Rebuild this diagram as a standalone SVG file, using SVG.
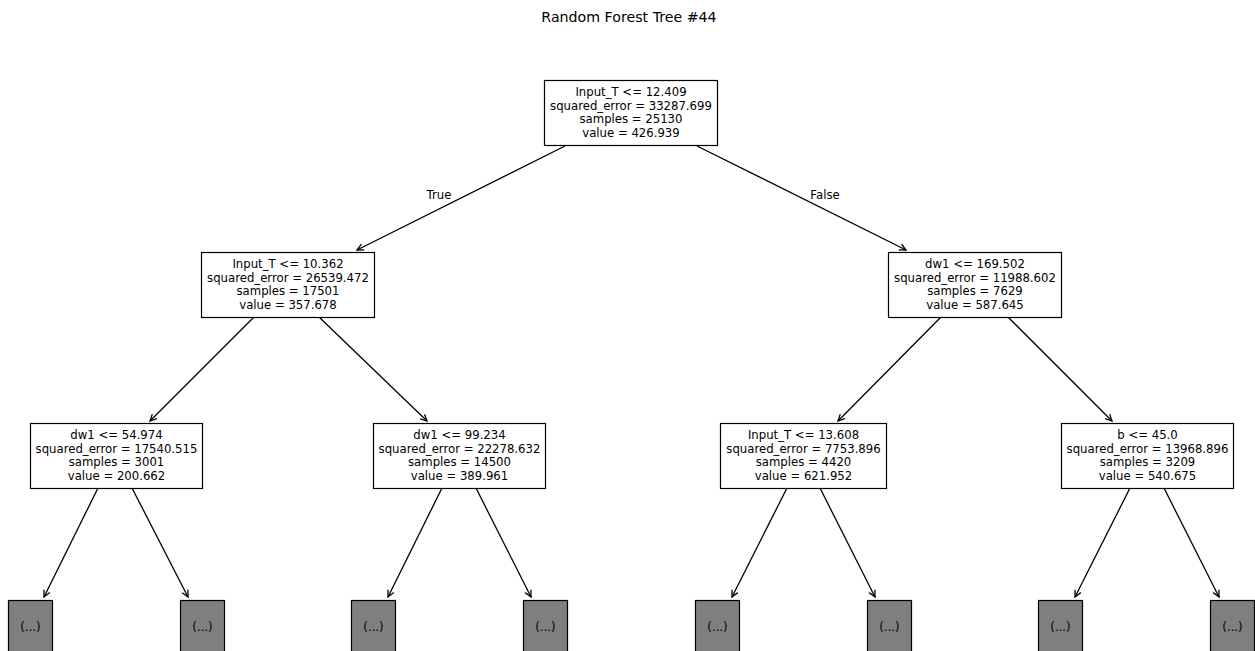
<svg xmlns="http://www.w3.org/2000/svg" width="1255" height="651" viewBox="0 0 1255 651">
<style>
text{font-family:"DejaVu Sans","Liberation Sans",sans-serif;fill:#000}
.t{font-size:11.7px;text-anchor:middle}
.title{font-size:14.2px;text-anchor:middle}
.box{fill:#fff;stroke:#000;stroke-width:1.2}
.leaf{fill:#7f7f7f;stroke:#000;stroke-width:1.2}
.e{stroke:#000;stroke-width:1.3;fill:none;marker-end:url(#ah)}
</style>
<defs>
<marker id="ah" viewBox="-8 -5 10 10" refX="0" refY="0" markerWidth="10" markerHeight="10" markerUnits="userSpaceOnUse" orient="auto">
<path d="M-6.5,-3.2 L0,0 L-6.5,3.2" fill="none" stroke="#000" stroke-width="1.3"/>
</marker>
</defs>
<rect width="1255" height="651" fill="#fff"/>
<text class="title" x="629" y="22">Random Forest Tree #44</text>
<g id="connectors">
<line class="e" x1="565" y1="146" x2="357" y2="250"/>
<line class="e" x1="697" y1="146" x2="906" y2="250"/>
<line class="e" x1="254" y1="317" x2="150" y2="421"/>
<line class="e" x1="319" y1="317" x2="427" y2="421"/>
<line class="e" x1="941" y1="317" x2="838" y2="421"/>
<line class="e" x1="1008" y1="317" x2="1112" y2="421"/>
<line class="e" x1="98" y1="488" x2="44" y2="597"/>
<line class="e" x1="132" y1="488" x2="188" y2="597"/>
<line class="e" x1="442" y1="488" x2="388" y2="597"/>
<line class="e" x1="476" y1="488" x2="531" y2="597"/>
<line class="e" x1="787" y1="488" x2="732" y2="597"/>
<line class="e" x1="820" y1="488" x2="875" y2="597"/>
<line class="e" x1="1130" y1="488" x2="1075" y2="597"/>
<line class="e" x1="1164" y1="488" x2="1219" y2="597"/>
<text class="t" x="439" y="199">True</text>
<text class="t" x="825" y="199">False</text>
</g>
<g id="n0">
<rect class="box" x="544.5" y="80.5" width="173" height="65"/>
<text class="t" x="631" y="96">Input_T &lt;= 12.409</text>
<text class="t" x="631" y="109.7">squared_error = 33287.699</text>
<text class="t" x="631" y="123.4">samples = 25130</text>
<text class="t" x="631" y="137.1">value = 426.939</text>
</g>
<g id="n1">
<rect class="box" x="201.5" y="252.5" width="173" height="65"/>
<text class="t" x="288" y="268">Input_T &lt;= 10.362</text>
<text class="t" x="288" y="281.7">squared_error = 26539.472</text>
<text class="t" x="288" y="295.4">samples = 17501</text>
<text class="t" x="288" y="309.1">value = 357.678</text>
</g>
<g id="n2">
<rect class="box" x="888.5" y="252.5" width="173" height="65"/>
<text class="t" x="975" y="268">dw1 &lt;= 169.502</text>
<text class="t" x="975" y="281.7">squared_error = 11988.602</text>
<text class="t" x="975" y="295.4">samples = 7629</text>
<text class="t" x="975" y="309.1">value = 587.645</text>
</g>
<g id="n3">
<rect class="box" x="30.5" y="423.5" width="172" height="65"/>
<text class="t" x="116.5" y="439">dw1 &lt;= 54.974</text>
<text class="t" x="116.5" y="452.7">squared_error = 17540.515</text>
<text class="t" x="116.5" y="466.4">samples = 3001</text>
<text class="t" x="116.5" y="480.1">value = 200.662</text>
</g>
<g id="n4">
<rect class="box" x="373.5" y="423.5" width="172" height="65"/>
<text class="t" x="459.5" y="439">dw1 &lt;= 99.234</text>
<text class="t" x="459.5" y="452.7">squared_error = 22278.632</text>
<text class="t" x="459.5" y="466.4">samples = 14500</text>
<text class="t" x="459.5" y="480.1">value = 389.961</text>
</g>
<g id="n5">
<rect class="box" x="720.5" y="423.5" width="166" height="65"/>
<text class="t" x="803.5" y="439">Input_T &lt;= 13.608</text>
<text class="t" x="803.5" y="452.7">squared_error = 7753.896</text>
<text class="t" x="803.5" y="466.4">samples = 4420</text>
<text class="t" x="803.5" y="480.1">value = 621.952</text>
</g>
<g id="n6">
<rect class="box" x="1061.5" y="423.5" width="172" height="65"/>
<text class="t" x="1147.5" y="439">b &lt;= 45.0</text>
<text class="t" x="1147.5" y="452.7">squared_error = 13968.896</text>
<text class="t" x="1147.5" y="466.4">samples = 3209</text>
<text class="t" x="1147.5" y="480.1">value = 540.675</text>
</g>
<g id="l0"><rect class="leaf" x="8.5" y="600.5" width="44" height="60"/><text class="t" x="30.5" y="631">(...)</text></g>
<g id="l1"><rect class="leaf" x="180.5" y="600.5" width="44" height="60"/><text class="t" x="202.5" y="631">(...)</text></g>
<g id="l2"><rect class="leaf" x="351.5" y="600.5" width="44" height="60"/><text class="t" x="373.5" y="631">(...)</text></g>
<g id="l3"><rect class="leaf" x="523.5" y="600.5" width="44" height="60"/><text class="t" x="545.5" y="631">(...)</text></g>
<g id="l4"><rect class="leaf" x="695.5" y="600.5" width="44" height="60"/><text class="t" x="717.5" y="631">(...)</text></g>
<g id="l5"><rect class="leaf" x="867.5" y="600.5" width="44" height="60"/><text class="t" x="889.5" y="631">(...)</text></g>
<g id="l6"><rect class="leaf" x="1038.5" y="600.5" width="44" height="60"/><text class="t" x="1060.5" y="631">(...)</text></g>
<g id="l7"><rect class="leaf" x="1210.5" y="600.5" width="44" height="60"/><text class="t" x="1232.5" y="631">(...)</text></g>
</svg>
